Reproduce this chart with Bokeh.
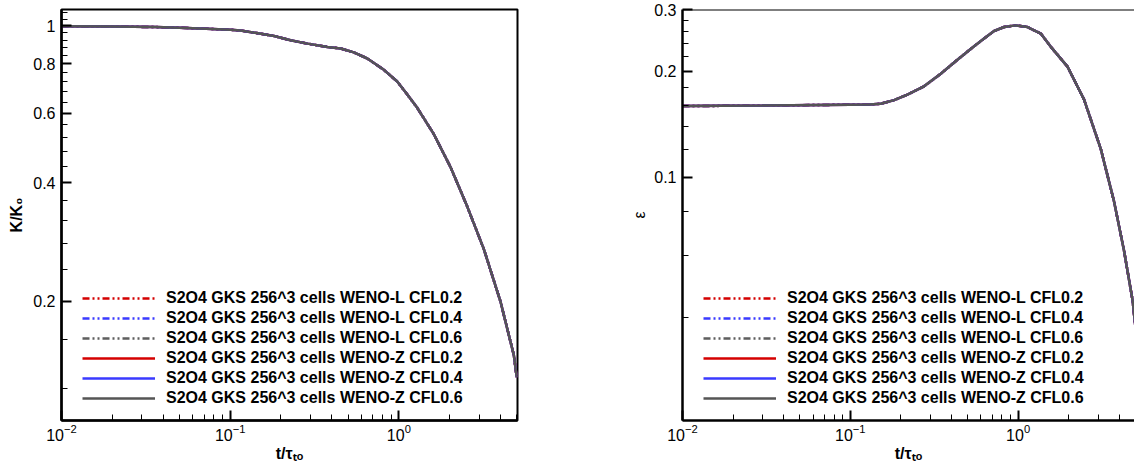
from bokeh.plotting import figure
from bokeh.layouts import row
from bokeh.models import (FixedTicker, LogTicker, CustomJSTickFormatter, Legend, LegendItem,
                          Span, Range1d)
from bokeh.embed import file_html
from bokeh.resources import INLINE

# ---------------- data ----------------
t_K = [0.01, 0.02, 0.036, 0.05, 0.072, 0.1, 0.115, 0.143, 0.182, 0.228, 0.287, 0.377,
       0.452, 0.541, 0.65, 0.815, 0.978, 1.122, 1.285, 1.611, 2.023, 2.54, 3.19, 4.01,
       4.8, 5.0]
K_ratio = [0.997, 0.996, 0.9925, 0.989, 0.983, 0.977, 0.973, 0.959, 0.942, 0.919, 0.901,
           0.884, 0.876, 0.856, 0.826, 0.773, 0.722, 0.669, 0.619, 0.531, 0.438, 0.348,
           0.271, 0.199, 0.146, 0.128]

t_eps = [0.01, 0.03, 0.1, 0.13, 0.152, 0.1824, 0.219, 0.275, 0.346, 0.435, 0.547, 0.627,
         0.719, 0.826, 0.969, 1.138, 1.365, 1.567, 1.97, 2.47, 3.11, 3.73, 4.28, 4.81, 5.0]
eps = [0.1595, 0.160, 0.161, 0.1612, 0.162, 0.1658, 0.172, 0.1815, 0.197, 0.216, 0.236,
       0.248, 0.2606, 0.2675, 0.2704, 0.2675, 0.2563, 0.235, 0.2065, 0.1666, 0.1206,
       0.0855, 0.0619, 0.0448, 0.0377]

series_labels = [
    "S2O4 GKS 256^3 cells WENO-L CFL0.2",
    "S2O4 GKS 256^3 cells WENO-L CFL0.4",
    "S2O4 GKS 256^3 cells WENO-L CFL0.6",
    "S2O4 GKS 256^3 cells WENO-Z CFL0.2",
    "S2O4 GKS 256^3 cells WENO-Z CFL0.4",
    "S2O4 GKS 256^3 cells WENO-Z CFL0.6",
]
series_colors = ["#d40000", "#3a3aff", "#5e5e5e", "#d40000", "#3a3aff", "#555555"]
series_dash = ["7 3 2 3 2 3", "7 3 2 3 2 3", "7 3 2 3 2 3", "solid", "solid", "solid"]

K_yticks = [0.2, 0.4, 0.6, 0.8, 1.0]
K_yminor = [0.12, 0.16, 0.24, 0.28, 0.32, 0.36, 0.44, 0.48, 0.52, 0.56, 0.64, 0.68,
            0.72, 0.76, 0.84, 0.88, 0.92, 0.96, 1.04, 1.08]
eps_yticks = [0.1, 0.2, 0.3]
eps_yminor = [0.04, 0.06, 0.08, 0.12, 0.14, 0.16, 0.18, 0.22, 0.24, 0.26, 0.28]

x_title = "t/τₜₒ"
K_title = "K/K₀"
eps_title = "ε"

FONT = "Liberation Sans"


def style(p):
    p.xgrid.visible = False
    p.ygrid.visible = False
    p.background_fill_color = "white"
    p.border_fill_color = "white"
    for ax in (p.xaxis[0], p.yaxis[0]):
        ax.axis_line_width = 2.5
        ax.axis_line_color = "black"
        ax.major_tick_in = 10
        ax.major_tick_out = 0
        ax.major_tick_line_width = 2
        ax.major_tick_line_color = "black"
        ax.minor_tick_in = 6
        ax.minor_tick_out = 0
        ax.minor_tick_line_width = 1
        ax.minor_tick_line_color = "black"
        ax.major_label_text_font = FONT
        ax.major_label_text_font_size = "16px"
        ax.major_label_text_color = "black"
        ax.axis_label_text_font = FONT
        ax.axis_label_text_font_size = "16px"
        ax.axis_label_text_color = "black"
    p.xaxis[0].major_label_standoff = 3
    p.yaxis[0].major_label_standoff = 6
    p.xaxis[0].ticker = LogTicker(num_minor_ticks=10)
    p.xaxis[0].axis_label = x_title
    p.xaxis[0].axis_label_text_font_style = "bold"
    p.xaxis[0].axis_label_standoff = 1


def add_curves(p, xs, ys):
    items = []
    for lab, col, dash in zip(series_labels, series_colors, series_dash):
        r = p.line(xs, ys, line_color=col, line_width=2.5, line_dash=dash)
        items.append(LegendItem(label=lab, renderers=[r]))
    leg = Legend(items=items, location=(21, 12), background_fill_alpha=0,
                 border_line_alpha=0, padding=0, margin=0, spacing=0,
                 glyph_width=73, glyph_height=20, label_height=20, label_standoff=11,
                 label_text_font=FONT, label_text_font_size="16px",
                 label_text_font_style="bold", label_text_color="black")
    p.add_layout(leg)


H = 464
# ---------------- left: K/K0 ----------------
p1 = figure(width=600, height=H, x_axis_type="log", y_axis_type="log",
            x_range=Range1d(0.01, 5.05), y_range=Range1d(0.0995, 1.1),
            output_backend="svg", toolbar_location=None,
            min_border_left=61, min_border_right=83, min_border_top=9, min_border_bottom=39)
style(p1)
p1.outline_line_color = "black"
p1.outline_line_width = 2
p1.outline_line_alpha = 1
p1.yaxis[0].ticker = FixedTicker(ticks=K_yticks, minor_ticks=K_yminor)
p1.yaxis[0].formatter = CustomJSTickFormatter(code="return String(tick);")
p1.yaxis[0].axis_label = K_title
p1.yaxis[0].axis_label_text_font_style = "bold"
p1.yaxis[0].axis_label_standoff = 5
add_curves(p1, t_K, K_ratio)

# ---------------- right: epsilon ----------------
p2 = figure(width=534, height=H, x_axis_type="log", y_axis_type="log",
            x_range=Range1d(0.01, 4.94), y_range=Range1d(0.0204, 0.3),
            output_backend="svg", toolbar_location=None,
            min_border_left=82, min_border_right=0, min_border_top=9, min_border_bottom=39)
style(p2)
p2.outline_line_color = None
p2.yaxis[0].ticker = FixedTicker(ticks=eps_yticks, minor_ticks=eps_yminor)
p2.yaxis[0].formatter = CustomJSTickFormatter(code="return String(tick);")
p2.yaxis[0].axis_label = eps_title
p2.yaxis[0].axis_label_text_font_style = "normal"
p2.yaxis[0].axis_label_standoff = 3
add_curves(p2, t_eps, eps)
p2.add_layout(Span(location=0.3, dimension="width", line_color="black", line_width=2))

layout = row(p1, p2)
open("out.html", "w").write(file_html(layout, INLINE))
